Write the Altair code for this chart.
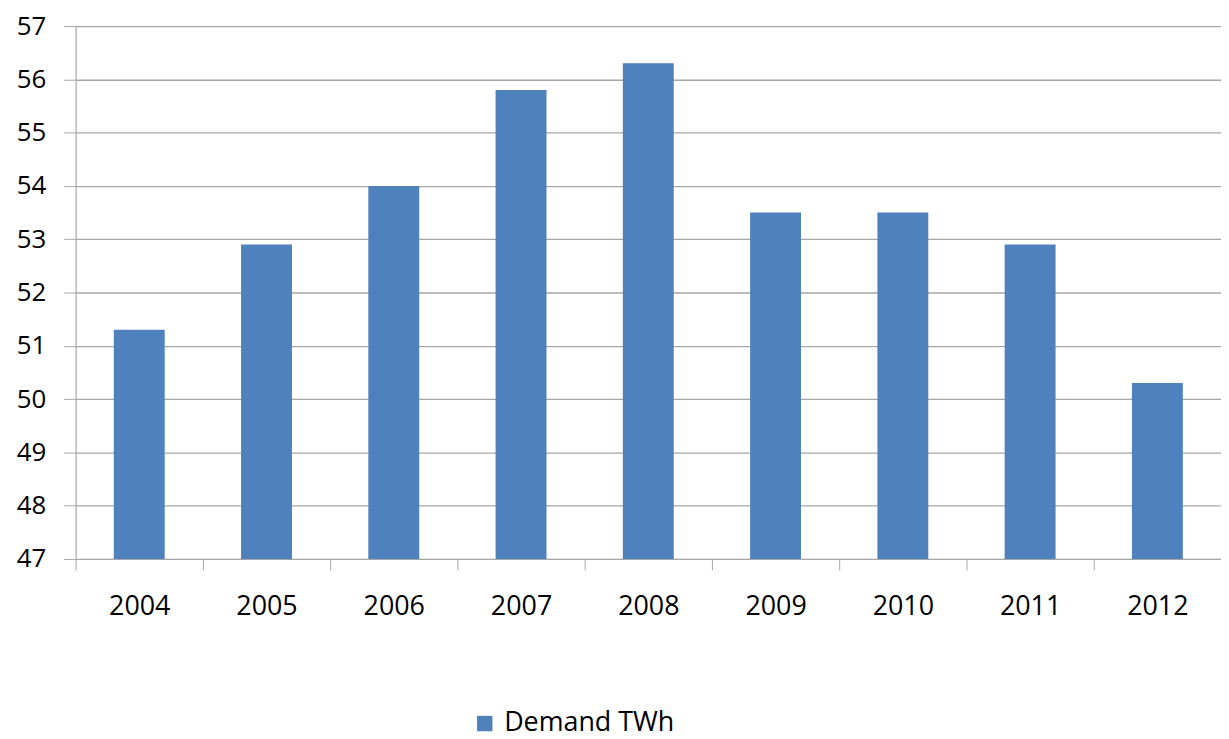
import altair as alt
import pandas as pd

years = ["2004", "2005", "2006", "2007", "2008", "2009", "2010", "2011", "2012"]
demand = [51.3, 52.9, 54.0, 55.8, 56.3, 53.5, 53.5, 52.9, 50.3]
series = ["Demand TWh"] * len(years)

df = pd.DataFrame({"year": years, "demand": demand, "series": series})

FONT = "Open Sans"
GRID = "#a6a6a6"

chart = alt.Chart(df).mark_bar(
    color="#4f81bd", clip=True, width=alt.RelativeBandSize(0.4)
).encode(
    x=alt.X(
        "year:N",
        title=None,
        scale=alt.Scale(paddingInner=0, paddingOuter=0),
        axis=alt.Axis(
            labelAngle=0,
            tickBand="extent",
            grid=False,
            ticks=True,
            tickSize=11,
            tickColor=GRID,
            domainColor=GRID,
            labelFontSize=27,
            labelFont=FONT,
            labelColor="#000000",
            labelPadding=24,
        ),
    ),
    y=alt.Y(
        "demand:Q",
        title=None,
        scale=alt.Scale(domain=[47, 57], zero=False, nice=False),
        axis=alt.Axis(
            values=list(range(47, 58)),
            tickSize=12,
            tickColor=GRID,
            gridColor=GRID,
            gridWidth=1.3,
            domainColor=GRID,
            labelFontSize=26,
            labelFont=FONT,
            labelColor="#000000",
            labelPadding=18,
        ),
    ),
    color=alt.Color(
        "series:N",
        scale=alt.Scale(range=["#4f81bd"]),
        legend=alt.Legend(
            title=None,
            orient="none",
            legendX=398,
            legendY=688,
            symbolType="square",
            symbolSize=240,
            symbolStrokeWidth=0,
            labelFontSize=27,
            labelFont=FONT,
            labelColor="#000000",
            labelLimit=400,
            padding=0,
            labelOffset=6,
        ),
    ),
).properties(
    width=1152,
    height=536,
    autosize=alt.AutoSizeParams(type="none"),
    padding={"left": 68, "top": 16, "right": 0, "bottom": 196},
).configure_view(stroke=None).configure(background="white")

chart.save("out.html", embed_options={"renderer": "svg", "actions": False})
